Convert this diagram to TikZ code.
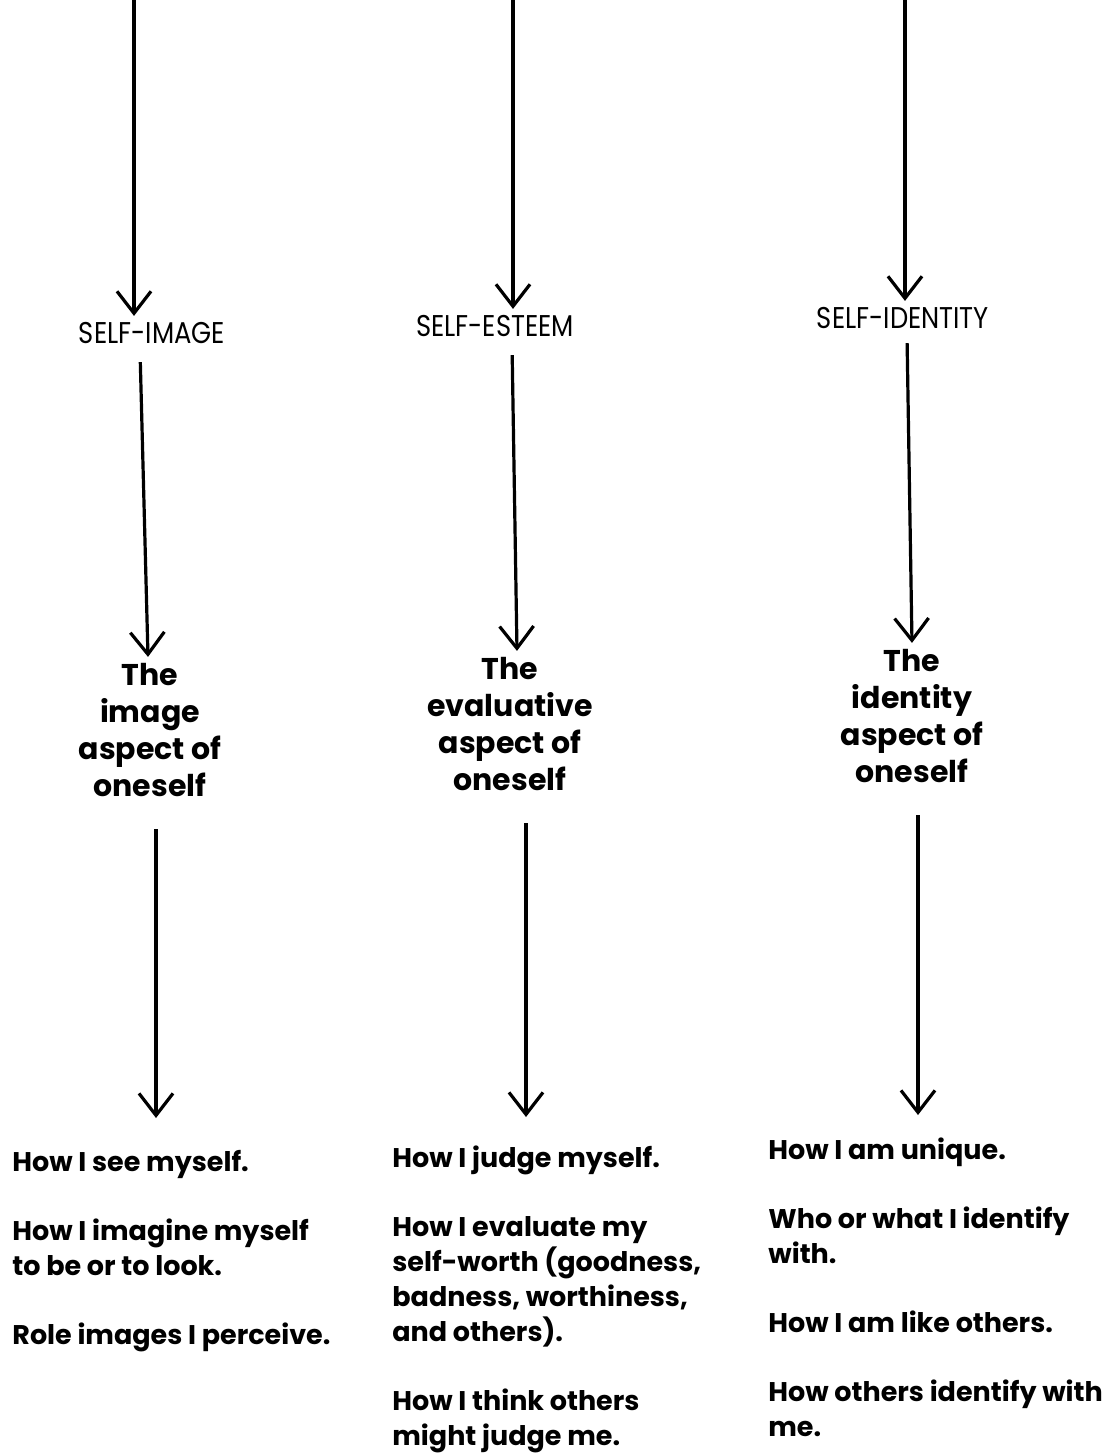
\documentclass[tikz,border=0pt]{standalone}
\usepackage{fontspec}
\setmainfont{Poppins}
\newfontfamily\headfont[FakeStretch=0.86]{Poppins}
\usetikzlibrary{arrows.meta}

\tikzset{
  head/.style={font=\headfont\fontsize{15}{18}\selectfont, inner sep=3pt},
  aspect/.style={align=center, font=\fontsize{15}{18.5}\selectfont\bfseries, inner sep=3pt},
  what/.style={align=left, anchor=north west, inner sep=0pt,
    font=\fontsize{13.5}{17.5}\selectfont\bfseries},
  flow/.style={-{Straight Barb[length=11pt,width=17pt,line width=1.6pt]}, line width=1.6pt}
}

\begin{document}
\begin{tikzpicture}[x=0.5pt, y=-0.5pt]
    \useasboundingbox (0,0) rectangle (1115,1453);
    % self-image
    \coordinate (in1) at (134,0);
    \node[head] (img) at (152,333) {SELF-IMAGE};
    \node[aspect] (asp1) at (150,730) {The\\image\\aspect of\\oneself};
    \node[what] (how1) at (12,1150) {How I see myself.\\[17pt]
        How I imagine myself\\to be or to look.\\[17pt]
        Role images I perceive.};
    \draw[flow] (in1) -- (in1 |- img.north);
    \draw[flow, shorten <=6pt] ([xshift=-6pt]img.south) -- ([xshift=-1pt]asp1.north);
    \draw[flow, shorten <=13pt, shorten >=16pt] ([xshift=3pt]asp1.south) -- ([xshift=3pt]asp1.south |- how1.north);
    % self-esteem
    \coordinate (in2) at (513,0);
    \node[head] (est) at (495,326) {SELF-ESTEEM};
    \node[aspect] (asp2) at (510,724) {The\\evaluative\\aspect of\\oneself};
    \node[what] (how2) at (392,1145) {How I judge myself.\\[17pt]
        How I evaluate my\\self-worth (goodness,\\badness, worthiness,\\and others).\\[17pt]
        How I think others\\might judge me.};
    \draw[flow] (in2) -- (in2 |- est.north);
    \draw[flow, shorten <=6pt] ([xshift=8.5pt]est.south) -- ([xshift=3.5pt]asp2.north);
    \draw[flow, shorten <=13pt, shorten >=14pt] ([xshift=8pt]asp2.south) -- ([xshift=8pt]asp2.south |- how2.north);
    % self-identity
    \coordinate (in3) at (905,0);
    \node[head] (ide) at (903,318) {SELF-IDENTITY};
    \node[aspect] (asp3) at (912,716) {The\\identity\\aspect of\\oneself};
    \node[what] (how3) at (768,1137) {How I am unique.\\[17pt]
        Who or what I identify\\with.\\[17pt]
        How I am like others.\\[17pt]
        How others identify with\\me.};
    \draw[flow] (in3) -- (in3 |- ide.north);
    \draw[flow, shorten <=4pt] ([xshift=2pt]ide.south) -- (asp3.north);
    \draw[flow, shorten <=13pt, shorten >=11pt] ([xshift=3pt]asp3.south) -- ([xshift=3pt]asp3.south |- how3.north);
\end{tikzpicture}
\end{document}
